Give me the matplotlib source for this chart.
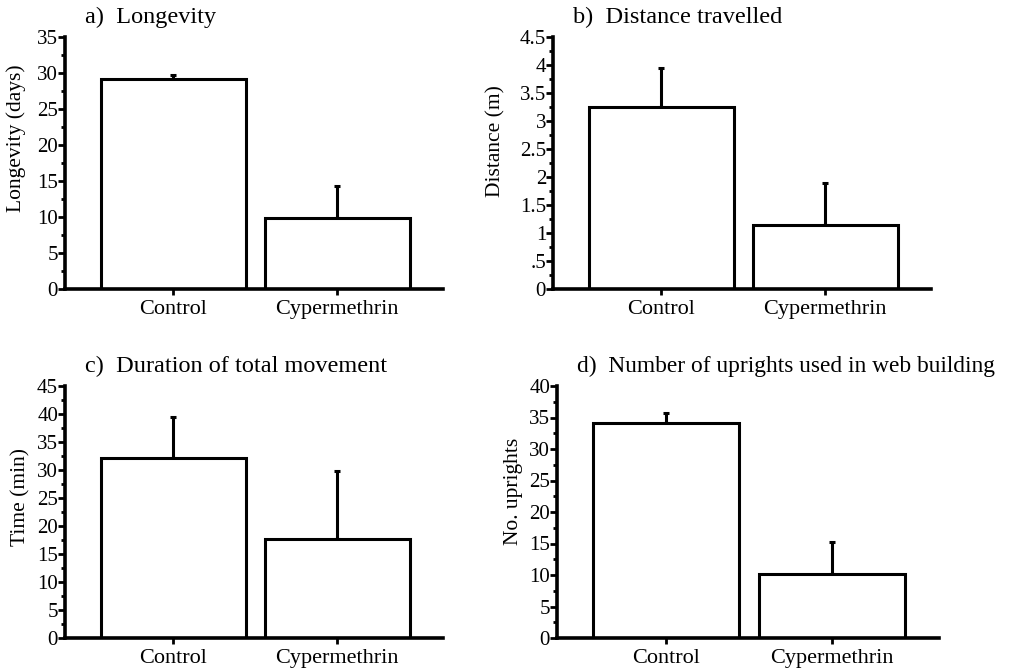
import numpy as np
import matplotlib
matplotlib.use("Agg")
import matplotlib.pyplot as plt

plt.rcParams['font.family'] = ['Liberation Serif', 'DejaVu Serif']

groups = ["Control", "Cypermethrin"]

titles = ["a)  Longevity", "b)  Distance travelled",
          "c)  Duration of total movement", "d)  Number of uprights used in web building"]
ylabels = ["Longevity (days)", "Distance (m)", "Time (min)", "No. uprights"]

means_a = [29.2, 9.9]
err_a = [0.5, 4.4]
means_b = [3.25, 1.15]
err_b = [0.7, 0.75]
means_c = [32.2, 17.7]
err_c = [7.2, 12.1]
means_d = [34.2, 10.1]
err_d = [1.5, 5.2]

yticks_a = [0, 5, 10, 15, 20, 25, 30, 35]
yticks_b = [0, 0.5, 1, 1.5, 2, 2.5, 3, 3.5, 4, 4.5]
ytick_labels_b = ["0", ".5", "1", "1.5", "2", "2.5", "3", "3.5", "4", "4.5"]
yticks_c = [0, 5, 10, 15, 20, 25, 30, 35, 40, 45]
yticks_d = [0, 5, 10, 15, 20, 25, 30, 35, 40]

W, H = 1029, 670
fig = plt.figure(figsize=(W / 100, H / 100), dpi=100)

# axes boxes in pixels: left, top, right, bottom
boxes = [(65, 37, 443, 289), (553, 37, 931, 289),
         (65, 386, 443, 638), (557, 386, 939, 638)]
# y-label anchor (axes fraction, right edge of the rotated text) and title size per panel
label_xy = [(-0.104, 0.60), (-0.125, 0.587), (-0.09, 0.56), (-0.09, 0.58)]
title_sizes = [17.5, 17.5, 17.5, 16.8]

panels = [
    (means_a, err_a, yticks_a, [str(t) for t in yticks_a]),
    (means_b, err_b, yticks_b, ytick_labels_b),
    (means_c, err_c, yticks_c, [str(t) for t in yticks_c]),
    (means_d, err_d, yticks_d, [str(t) for t in yticks_d]),
]

x = np.arange(len(groups))
for i, (means, errs, yt, ytl) in enumerate(panels):
    l, t, r, b = boxes[i]
    ax = fig.add_axes([l / W, 1 - b / H, (r - l) / W, (b - t) / H])
    ax.bar(x, means, width=0.884, color="white", edgecolor="black", linewidth=2.2, zorder=2)
    ax.errorbar(x, means, yerr=[np.zeros(len(errs)), errs], fmt="none", ecolor="black",
                elinewidth=2.2, capsize=2.5, capthick=2.2, zorder=1)
    ax.set_xlim(-0.659, 1.646)
    ax.set_ylim(yt[0], yt[-1])
    ax.set_yticks(yt)
    ax.set_yticklabels(ytl)
    step = yt[1] - yt[0]
    ax.set_yticks(np.arange(yt[0] + step / 2, yt[-1], step), minor=True)
    ax.set_xticks(x)
    ax.set_xticklabels(groups)
    for s in ["top", "right"]:
        ax.spines[s].set_visible(False)
    for s in ["left", "bottom"]:
        ax.spines[s].set_linewidth(2.6)
    ax.tick_params(axis="y", which="major", length=5, width=2, labelsize=15, pad=0)
    ax.tick_params(axis="y", which="minor", length=3, width=2)
    ax.tick_params(axis="x", which="major", length=4, width=2, labelsize=16, pad=4)
    ax.set_ylabel(ylabels[i], fontsize=15.5)
    ax.yaxis.set_label_coords(*label_xy[i])
    ax.text(20 / (r - l), 1.035, titles[i], transform=ax.transAxes, fontsize=title_sizes[i],
            ha="left", va="bottom")

fig.savefig("out.png", dpi=100)
